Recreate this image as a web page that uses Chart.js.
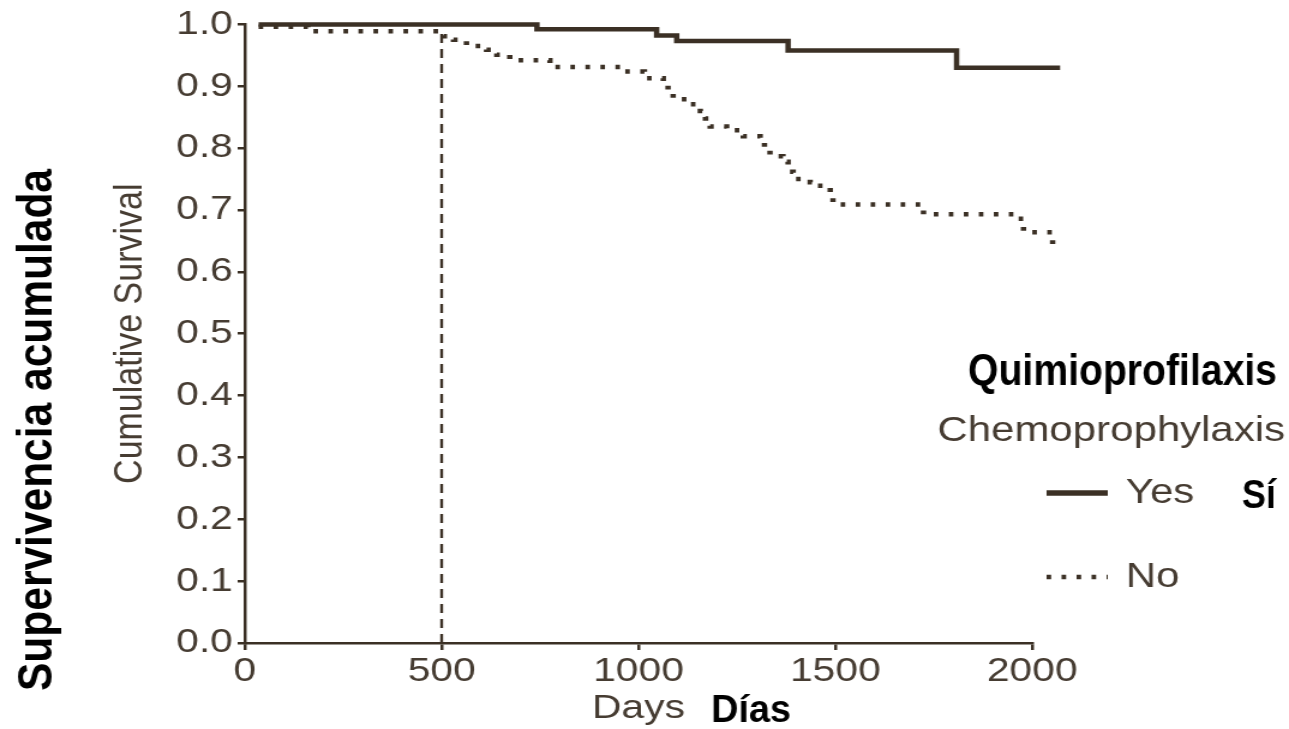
<!DOCTYPE html>
<html>
<head>
<meta charset="utf-8">
<script src="https://cdn.jsdelivr.net/npm/chart.js@4/dist/chart.umd.min.js"></script>
<style>
  html, body { margin: 0; padding: 0; background: #fff; overflow: hidden; }
  #kmChart { display: block; transform-origin: 0 0; }
</style>
</head>
<body>
<canvas id="kmChart" width="1074" height="729"></canvas>
<script>
// Kaplan-Meier curves (days, cumulative survival)
const yesDays = [35, 742, 1046, 1097, 1380, 1808, 2071];
const yesSurv = [1.0, 0.992, 0.982, 0.973, 0.958, 0.930, 0.930];

const noDays = [35, 160, 505, 530, 563, 614, 640, 673, 775, 962, 1015, 1063, 1075, 1088, 1122,
                1157, 1170, 1182, 1224, 1266, 1309, 1320, 1334, 1367, 1380, 1393, 1436, 1454,
                1487, 1494, 1724, 1962, 1978, 2052, 2058, 2064];
const noSurv = [0.996, 0.989, 0.981, 0.975, 0.965, 0.959, 0.951, 0.942, 0.931, 0.924, 0.913, 0.905, 0.892, 0.879, 0.871,
                0.860, 0.848, 0.835, 0.829, 0.819, 0.810, 0.798, 0.787, 0.778, 0.762, 0.750, 0.745, 0.739,
                0.725, 0.709, 0.693, 0.686, 0.664, 0.645, 0.630, 0.630];

// dashed marker at 500 days
const markDays = [500, 500];
const markSurv = [0, 0.99];

const xTicks = [0, 500, 1000, 1500, 2000];
const legendTitle = "Chemoprophylaxis";
const legendLabels = ["Yes", "No"];

const lineColor = "#3b3025";
const textColor = "#463c32";
const SX = 1289 / 1074; // the original figure is stretched sideways

const canvas = document.getElementById("kmChart");
canvas.style.transform = "scaleX(" + SX + ")";

function toPoints(xs, ys) {
    return xs.map((x, i) => ({ x: x, y: ys[i] }));
}

// spanish overlay text, fitted to a width (drawn in page pixels)
function fitText(ctx, text, x, y, size, targetW, rotate) {
    ctx.save();
    ctx.font = "bold " + size + "px 'Liberation Sans', Arial, sans-serif";
    ctx.fillStyle = "#000";
    ctx.textAlign = "left";
    ctx.textBaseline = "alphabetic";
    const w = ctx.measureText(text).width;
    ctx.translate(x, y);
    if (rotate) ctx.rotate(-Math.PI / 2);
    ctx.scale(targetW / w, 1);
    ctx.fillText(text, 0, 0);
    ctx.restore();
}

const legendPlugin = {
    id: "kmLegend",
    afterDraw(chart) {
        const ctx = chart.ctx;
        ctx.save();
        ctx.fillStyle = textColor;
        ctx.font = "35px 'Liberation Sans', Arial, sans-serif";
        ctx.textBaseline = "alphabetic";
        ctx.fillText(legendTitle, 781, 441);

        legendLabels.forEach((label, i) => {
            const ds = chart.data.datasets[i];
            const y = 493 + i * 84;
            ctx.save();
            ctx.strokeStyle = ds.borderColor;
            ctx.lineWidth = i === 0 ? 5.5 : ds.borderWidth;
            ctx.setLineDash(ds.borderDash || []);
            ctx.beginPath();
            ctx.moveTo(872, y);
            ctx.lineTo(923, y);
            ctx.stroke();
            ctx.restore();
            ctx.fillText(label, 938, y + 10);
        });

        // spanish translations added over the figure
        ctx.scale(1 / SX, 1);
        fitText(ctx, "Quimioprofilaxis", 968, 385, 44, 309, false);
        fitText(ctx, "Sí", 1242, 508, 41, 34, false);
        fitText(ctx, "Días", 711, 722, 38, 80, false);
        fitText(ctx, "Supervivencia acumulada", 52, 691, 49, 522, true);
        ctx.restore();
    }
};

new Chart(canvas, {
    type: "line",
    data: {
        datasets: [{
            label: legendLabels[0],
            data: toPoints(yesDays, yesSurv),
            borderColor: lineColor,
            borderWidth: 4.5,
            stepped: true,
            pointRadius: 0,
            fill: false,
            clip: false
        }, {
            label: legendLabels[1],
            data: toPoints(noDays, noSurv),
            borderColor: lineColor,
            borderWidth: 4.5,
            borderDash: [3.8, 8.7],
            stepped: true,
            pointRadius: 0,
            fill: false,
            clip: false
        }, {
            label: "500",
            data: toPoints(markDays, markSurv),
            borderColor: lineColor,
            borderWidth: 2.4,
            borderDash: [9, 6],
            pointRadius: 0,
            fill: false,
            clip: false
        }]
    },
    options: {
        responsive: false,
        animation: false,
        events: [],
        layout: {
            padding: { left: 0, right: 214, top: 23, bottom: 0 }
        },
        scales: {
            x: {
                type: "linear",
                min: 0,
                max: 2000,
                afterBuildTicks: (scale) => { scale.ticks = xTicks.map(v => ({ value: v })); },
                afterFit: (scale) => { scale.height = 86; },
                ticks: {
                    color: textColor,
                    font: { size: 34, family: "'Liberation Sans', Arial, sans-serif" },
                    padding: 1,
                    maxRotation: 0,
                    callback: (v) => String(v)
                },
                grid: {
                    drawOnChartArea: false,
                    drawTicks: true,
                    tickLength: 7,
                    color: lineColor,
                    lineWidth: 2.5
                },
                border: { display: true, color: lineColor, width: 2.5 },
                title: {
                    display: true,
                    text: "Days",
                    color: textColor,
                    font: { size: 34, family: "'Liberation Sans', Arial, sans-serif", lineHeight: 1.2 },
                    padding: { top: 0, bottom: 0 }
                }
            },
            y: {
                min: 0,
                max: 1,
                afterFit: (scale) => { scale.width = 204; },
                ticks: {
                    stepSize: 0.1,
                    color: textColor,
                    font: { size: 34, family: "'Liberation Sans', Arial, sans-serif" },
                    padding: 4,
                    callback: (v) => Number(v).toFixed(1)
                },
                grid: {
                    drawOnChartArea: false,
                    drawTicks: true,
                    tickLength: 6,
                    color: lineColor,
                    lineWidth: 2.5
                },
                border: { display: true, color: lineColor, width: 2.5 },
                title: {
                    display: true,
                    text: "Cumulative Survival",
                    color: textColor,
                    font: { size: 34, family: "'Liberation Sans', Arial, sans-serif", lineHeight: 1.2 },
                    padding: { top: 88, bottom: 0 }
                }
            }
        },
        plugins: {
            legend: { display: false },
            tooltip: { enabled: false }
        }
    },
    plugins: [legendPlugin]
});
</script>
</body>
</html>
